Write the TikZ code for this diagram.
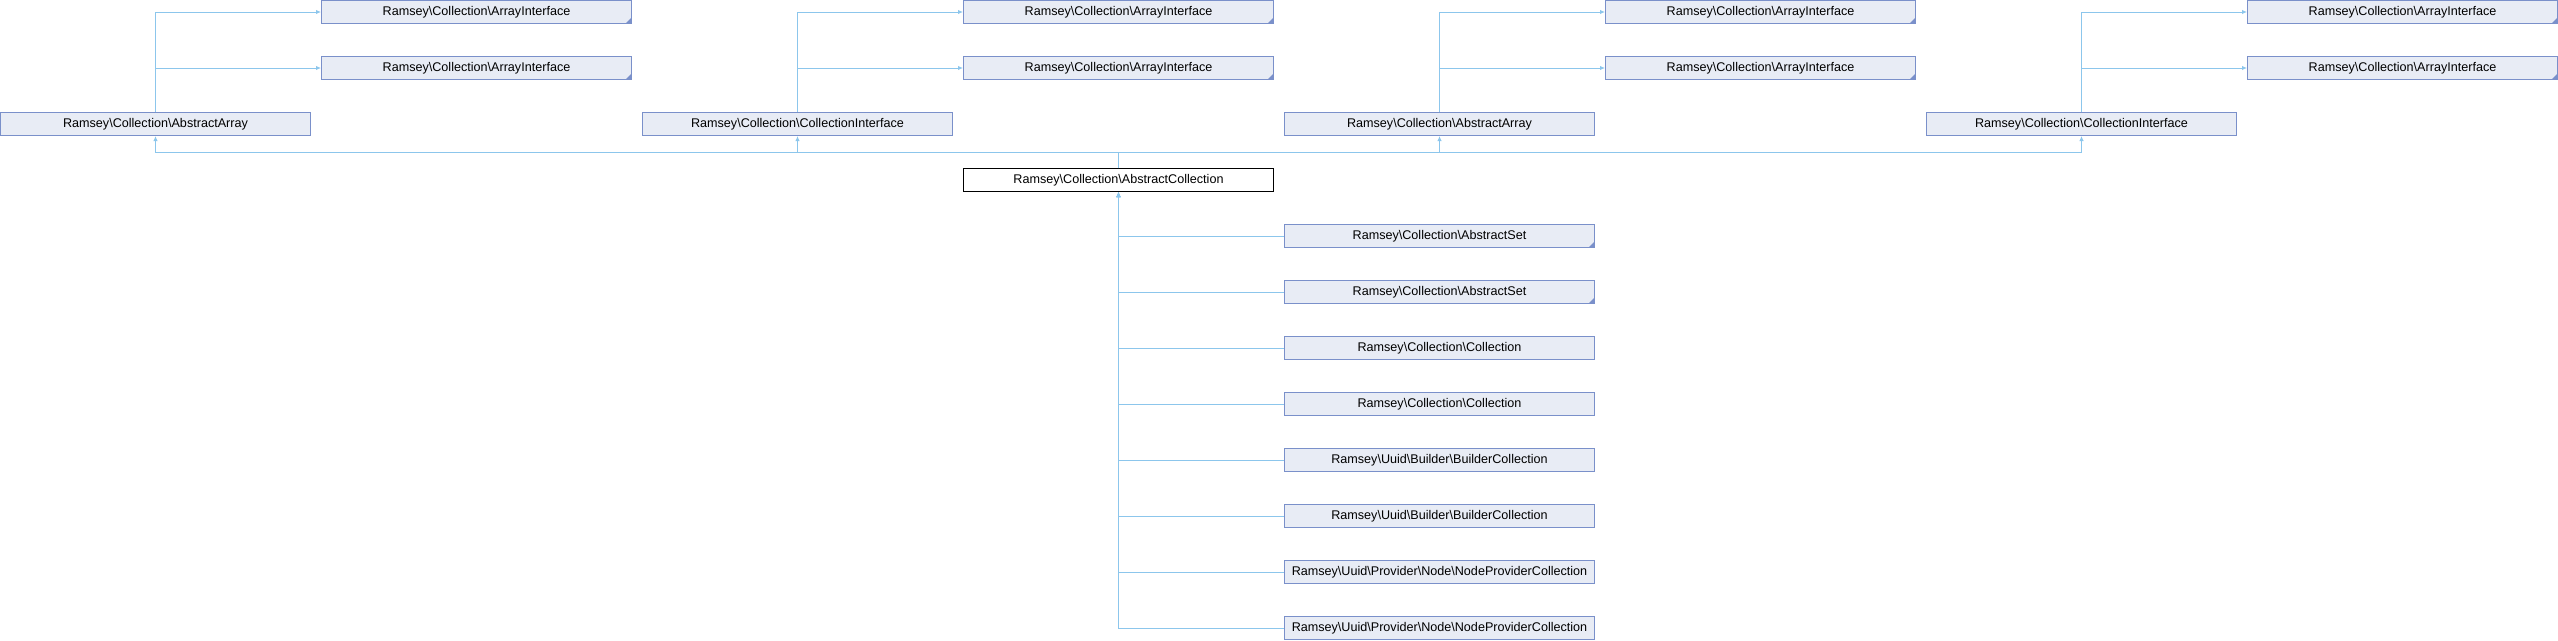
\documentclass[tikz,border=0pt]{standalone}
\usepackage{fontspec}
\setmainfont{Liberation Sans}
\usetikzlibrary{arrows.meta}
\definecolor{boxfill}{HTML}{E8ECF5}
\definecolor{boxline}{HTML}{7A90CA}
\definecolor{edgeblue}{HTML}{8CC6EC}
\newcommand{\bsl}{\textbackslash}

\begin{document}
\begin{tikzpicture}[x=1pt, y=-1pt,
    cls/.style={rectangle, draw=boxline, fill=boxfill, line width=1pt, minimum width=310pt, minimum height=23pt, inner sep=0pt, font=\fontsize{12.6}{15}\selectfont},
    trunc/.style={cls, path picture={\fill[boxline] (path picture bounding box.south east) -- ++(-6pt,0pt) -- ++(6pt,6pt) -- cycle;}},
    root/.style={cls, draw=black, fill=white},
    edge/.style={draw=edgeblue, line width=1pt},
    arr/.style={-{Latex[length=5pt,width=4.5pt]}},
    rarr/.style={{Latex[length=5pt,width=4.5pt]}-}
]
\useasboundingbox (0,0) rectangle (2558,640);

% interfaces on top
\node[trunc] (ai1a) at (476.5,12) {Ramsey\bsl Collection\bsl ArrayInterface};
\node[trunc] (ai1b) at (476.5,68) {Ramsey\bsl Collection\bsl ArrayInterface};
\node[trunc] (ai2a) at (1118.5,12) {Ramsey\bsl Collection\bsl ArrayInterface};
\node[trunc] (ai2b) at (1118.5,68) {Ramsey\bsl Collection\bsl ArrayInterface};
\node[trunc] (ai3a) at (1760.5,12) {Ramsey\bsl Collection\bsl ArrayInterface};
\node[trunc] (ai3b) at (1760.5,68) {Ramsey\bsl Collection\bsl ArrayInterface};
\node[trunc] (ai4a) at (2402.5,12) {Ramsey\bsl Collection\bsl ArrayInterface};
\node[trunc] (ai4b) at (2402.5,68) {Ramsey\bsl Collection\bsl ArrayInterface};

% base row
\node[cls] (aa1) at (155.5,124) {Ramsey\bsl Collection\bsl AbstractArray};
\node[cls] (ci1) at (797.5,124) {Ramsey\bsl Collection\bsl CollectionInterface};
\node[cls] (aa2) at (1439.5,124) {Ramsey\bsl Collection\bsl AbstractArray};
\node[cls] (ci2) at (2081.5,124) {Ramsey\bsl Collection\bsl CollectionInterface};

\node[root] (coll) at (1118.5,180) {Ramsey\bsl Collection\bsl AbstractCollection};

% derived classes
\node[trunc] (set1) at (1439.5,236) {Ramsey\bsl Collection\bsl AbstractSet};
\node[trunc] (set2) at (1439.5,292) {Ramsey\bsl Collection\bsl AbstractSet};
\node[cls] (col1) at (1439.5,348) {Ramsey\bsl Collection\bsl Collection};
\node[cls] (col2) at (1439.5,404) {Ramsey\bsl Collection\bsl Collection};
\node[cls] (bld1) at (1439.5,460) {Ramsey\bsl Uuid\bsl Builder\bsl BuilderCollection};
\node[cls] (bld2) at (1439.5,516) {Ramsey\bsl Uuid\bsl Builder\bsl BuilderCollection};
\node[cls] (npc1) at (1439.5,572) {Ramsey\bsl Uuid\bsl Provider\bsl Node\bsl NodeProviderCollection};
\node[cls] (npc2) at (1439.5,628) {Ramsey\bsl Uuid\bsl Provider\bsl Node\bsl NodeProviderCollection};

\foreach \b/\t in {aa1/ai1a, aa1/ai1b, ci1/ai2a, ci1/ai2b, aa2/ai3a, aa2/ai3b, ci2/ai4a, ci2/ai4b} {
    \draw[edge, arr] (\b.north) |- (\t.west);
}
\foreach \b in {aa1, ci1, aa2, ci2} {
    \draw[edge, arr] (coll.north) -- ++(0,-16) -| (\b.south);
}
\foreach \c in {set1, set2, col1, col2, bld1, bld2, npc1, npc2} {
    \draw[edge, rarr] (coll.south) |- (\c.west);
}

\end{tikzpicture}
\end{document}
